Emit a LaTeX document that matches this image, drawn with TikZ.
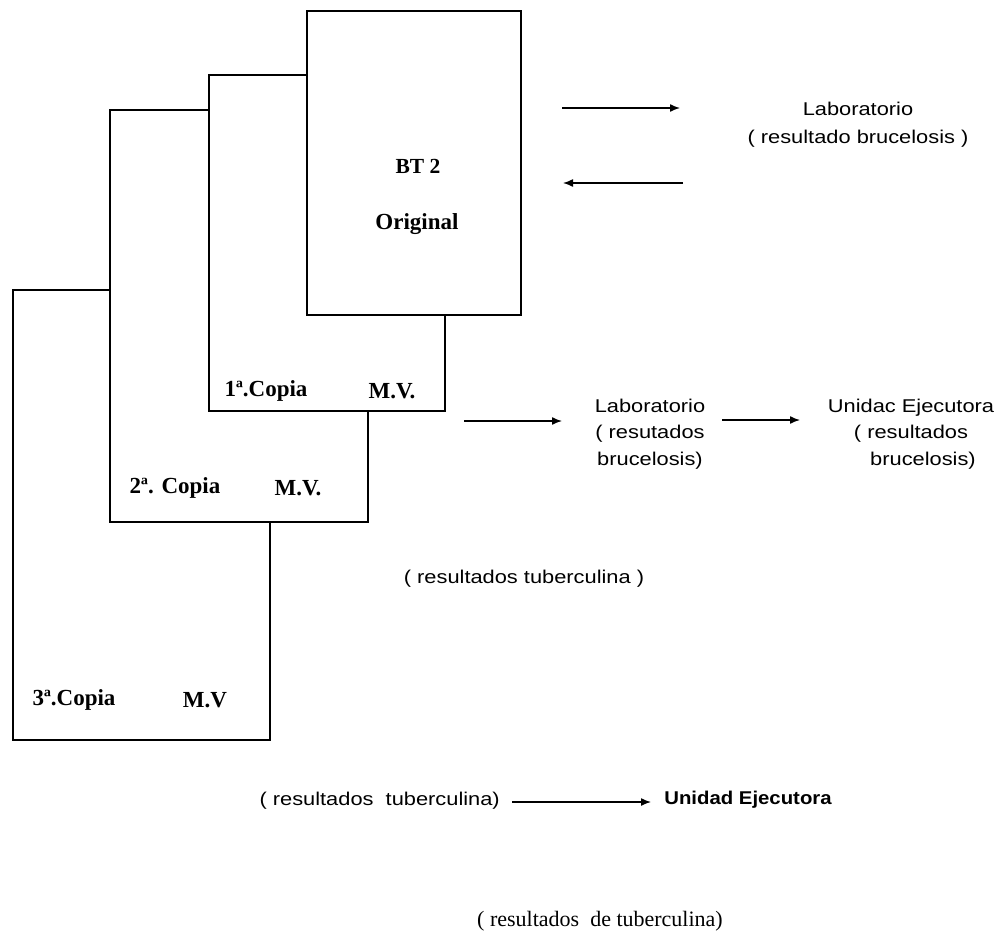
\documentclass[tikz,border=0pt]{standalone}
\usepackage{graphicx}
\usepackage{fontspec}
\setmainfont{Liberation Serif}
\newfontfamily\arialf{Liberation Sans}
\usetikzlibrary{arrows.meta}
\newcommand\stretchtxt[1]{\scalebox{1.18}[1]{#1}}
\newcommand\stretchbold[1]{\scalebox{1.1}[1]{#1}}
\tikzset{
  sheet/.style={draw=black, line width=1.2pt, fill=white},
  boxlbl/.style={font=\fontsize{23}{26}\selectfont\bfseries, inner sep=0pt},
  sanslbl/.style={font=\arialf\fontsize{18.5}{26.5}\selectfont, inner sep=0pt, align=center},
  seriflbl/.style={font=\fontsize{22}{25}\selectfont, inner sep=0pt},
  flow/.style={line width=1.4pt, -{Latex[length=10pt,width=8pt]}},
}
\begin{document}
\begin{tikzpicture}[x=1pt,y=-1pt]
\useasboundingbox (0,0) rectangle (997,935);
% sheets, back to front
\draw[sheet] (13,290) rectangle (270,740);
\draw[sheet] (110,110) rectangle (368,522);
\draw[sheet] (209,75) rectangle (445,411);
\draw[sheet] (307,11) rectangle (521,315);
% sheet labels
\node[boxlbl, font=\fontsize{21.5}{24}\selectfont\bfseries] (bt) at (418,166) {BT 2};
\node[boxlbl] (orig) at (417,224) {Original};
\node[boxlbl] (c1) at (266,391) {1ª.Copia};
\node[boxlbl] (mv1) at (392,391) {M.V.};
\node[boxlbl] (c2) at (175,488) {2ª. Copia};
\node[boxlbl] (mv2) at (298,488) {M.V.};
\node[boxlbl] (c3) at (74,700) {3ª.Copia};
\node[boxlbl] (mv3) at (205,700) {M.V};
% top right
\node[sanslbl, font=\arialf\fontsize{18.5}{28}\selectfont] (lab1) at (858,125) {\stretchtxt{Laboratorio}\\\stretchtxt{( resultado brucelosis )}};
\coordinate (a1s) at (562,108);
\coordinate (a1e) at (680,108);
\coordinate (a2s) at (683,183);
\coordinate (a2e) at (563,183);
\draw[flow] (a1s) -- (a1e);
\draw[flow] (a2s) -- (a2e);
% middle row
\node[sanslbl] (lab2) at (650,434) {\stretchtxt{Laboratorio}\\\stretchtxt{( resutados}\\\stretchtxt{brucelosis)}};
\node[sanslbl] (ue1) at (911,434) {\stretchtxt{Unidac Ejecutora}\\\stretchtxt{( resultados}\\\hspace*{24pt}\stretchtxt{brucelosis)}};
\coordinate (m1s) at (464,421);
\coordinate (m1e) at (562,421);
\coordinate (m2s) at (722,420);
\coordinate (m2e) at (800,420);
\draw[flow] (m1s) -- (m1e);
\draw[flow] (m2s) -- (m2e);
\node[sanslbl] (tub1) at (524,579) {\stretchtxt{( resultados tuberculina )}};
% bottom
\node[sanslbl, anchor=east] (tub2) at (500,801) {\stretchtxt{( resultados\ \ tuberculina)}};
\node[sanslbl, font=\arialf\bfseries\fontsize{18.5}{22}\selectfont] (ue2) at (748,800) {\stretchbold{Unidad Ejecutora}};
\coordinate (b1s) at (512,802);
\coordinate (b1e) at (651,802);
\draw[flow] (b1s) -- (b1e);
\node[seriflbl] (tub3) at (600,921) {( resultados\ \ de tuberculina)};
\end{tikzpicture}
\end{document}
